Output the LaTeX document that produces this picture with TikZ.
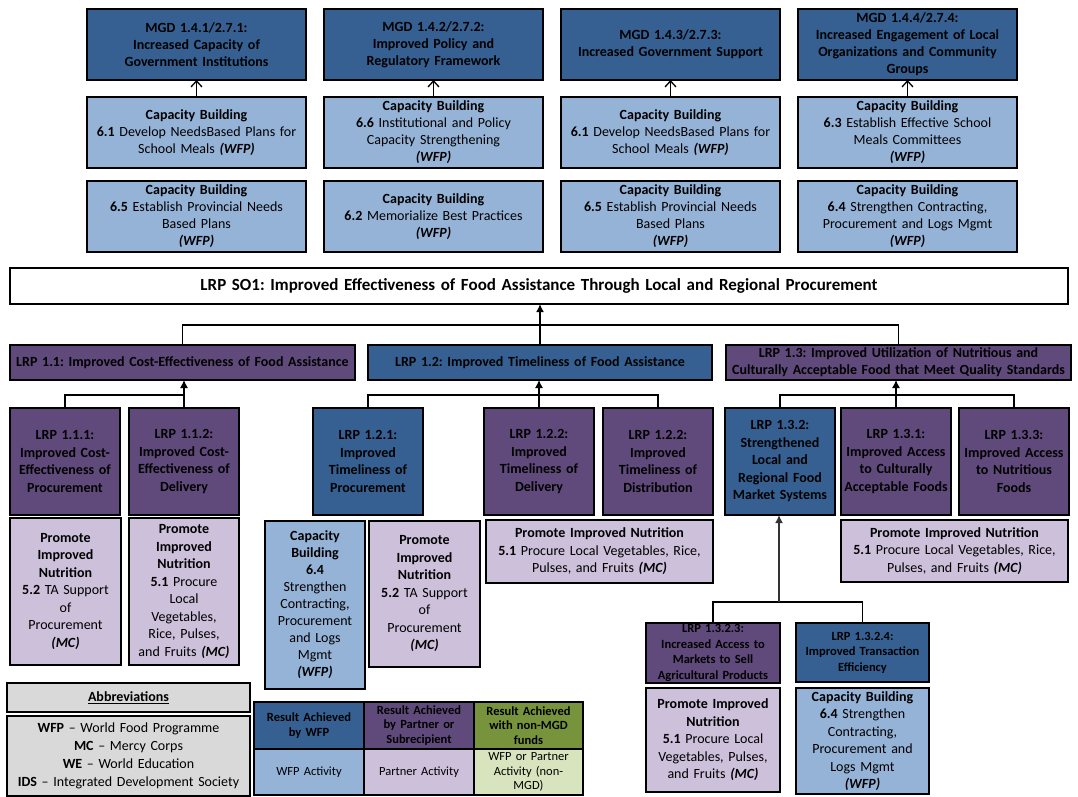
\documentclass[tikz,border=0pt]{standalone}
\usepackage{fontspec}
\setmainfont{Carlito}
\usetikzlibrary{positioning,arrows.meta}
\frenchspacing

\definecolor{wfpdark}{RGB}{54,96,146}
\definecolor{wfplight}{RGB}{149,179,215}
\definecolor{partdark}{RGB}{96,74,123}
\definecolor{partlight}{RGB}{204,192,218}
\definecolor{nongreen}{RGB}{119,147,60}
\definecolor{nonlight}{RGB}{215,228,189}
\definecolor{abbrgray}{RGB}{217,217,217}

\newcommand{\bywfp}{\textbf{\textit{(WFP)}}}
\newcommand{\bymc}{\textbf{\textit{(MC)}}}

\tikzset{
  box/.style={draw=black, line width=1.6pt, outer sep=0pt, inner sep=1pt,
              align=center, anchor=north west, font=\fontsize{14}{17}\selectfont},
  wfpres/.style={box, fill=wfpdark, font=\bfseries\fontsize{14}{17}\selectfont},
  partres/.style={box, fill=partdark, font=\bfseries\fontsize{14}{17}\selectfont},
  wfpact/.style={box, fill=wfplight},
  partact/.style={box, fill=partlight, font=\fontsize{14}{17.5}\selectfont},
  wide/.style={minimum width=219pt, minimum height=71pt, text width=215pt},
  tall/.style={minimum width=110pt, minimum height=107pt, text width=106pt,
               font=\bfseries\fontsize{14}{17.5}\selectfont},
  legh/.style={box, minimum width=110pt, minimum height=47pt, text width=106pt,
               font=\bfseries\fontsize{12.5}{14.5}\selectfont},
  legb/.style={box, minimum width=110pt, minimum height=46pt, text width=106pt,
               font=\fontsize{12.5}{14.5}\selectfont},
  conn/.style={line width=1.1pt},
  up/.style={conn, -{Latex[length=8pt,width=8pt]}},
  upopen/.style={line width=1.3pt, -{Straight Barb[length=6pt,width=11pt]}}
}

\begin{document}
\begin{tikzpicture}[x=1pt,y=-1pt]
\useasboundingbox (0,0) rectangle (1078,797);

% MGD results
\node[wfpres, wide] (mgd1) at (87,9) {MGD 1.4.1/2.7.1:\\Increased Capacity of\\Government Institutions};
\node[wfpres, wide, right=18pt of mgd1] (mgd2) {MGD 1.4.2/2.7.2:\\Improved Policy and\\Regulatory Framework};
\node[wfpres, wide, right=18pt of mgd2] (mgd3) {MGD 1.4.3/2.7.3:\\Increased Government Support};
\node[wfpres, wide, right=18pt of mgd3] (mgd4) {MGD 1.4.4/2.7.4:\\Increased Engagement of Local\\Organizations and Community\\Groups};

% capacity building activities
\node[wfpact, wide, below=17pt of mgd1] (cb61a) {\textbf{Capacity Building}\\\textbf{6.1} Develop NeedsBased Plans for\\School Meals \bywfp};
\node[wfpact, wide, below=17pt of mgd2] (cb66) {\textbf{Capacity Building}\\\textbf{6.6} Institutional and Policy\\Capacity Strengthening\\\bywfp};
\node[wfpact, wide, below=17pt of mgd3] (cb61b) {\textbf{Capacity Building}\\\textbf{6.1} Develop NeedsBased Plans for\\School Meals \bywfp};
\node[wfpact, wide, below=17pt of mgd4] (cb63) {\textbf{Capacity Building}\\\textbf{6.3} Establish Effective School\\Meals Committees\\\bywfp};

\node[wfpact, wide, below=13pt of cb61a] (cb65a) {\textbf{Capacity Building}\\\textbf{6.5} Establish Provincial Needs\\Based Plans\\\bywfp};
\node[wfpact, wide, below=13pt of cb66] (cb62) {\textbf{Capacity Building}\\\textbf{6.2} Memorialize Best Practices\\\bywfp};
\node[wfpact, wide, below=13pt of cb61b] (cb65b) {\textbf{Capacity Building}\\\textbf{6.5} Establish Provincial Needs\\Based Plans\\\bywfp};
\node[wfpact, wide, below=13pt of cb63] (cb64t) {\textbf{Capacity Building}\\\textbf{6.4} Strengthen Contracting,\\Procurement and Logs Mgmt\\\bywfp};

% strategic objective
\node[box, minimum width=1058pt, minimum height=36pt, text width=1050pt,
      font=\bfseries\fontsize{17}{20}\selectfont] (so1) at (10,268)
  {LRP SO1: Improved Effectiveness of Food Assistance Through Local and Regional Procurement};

% intermediate results
\node[partres, minimum width=345pt, minimum height=35pt, text width=341pt] (lrp11) at (10,345)
  {LRP 1.1: Improved Cost-Effectiveness of Food Assistance};
\node[wfpres, minimum width=344pt, minimum height=35pt, text width=340pt] (lrp12) at (368,345)
  {LRP 1.2: Improved Timeliness of Food Assistance};
\node[partres, minimum width=345pt, minimum height=35pt, text width=341pt] (lrp13) at (726,345)
  {LRP 1.3: Improved Utilization of Nutritious and\\Culturally Acceptable Food that Meet Quality Standards};

% sub results
\node[partres, tall] (lrp111) at (10,408) {LRP 1.1.1:\\Improved Cost-\\Effectiveness of\\Procurement};
\node[partres, tall] (lrp112) at (129,408) {LRP 1.1.2:\\Improved Cost-\\Effectiveness of\\Delivery};
\node[wfpres, tall] (lrp121) at (313,408) {LRP 1.2.1:\\Improved\\Timeliness of\\Procurement};
\node[partres, tall] (lrp122a) at (484,408) {LRP 1.2.2:\\Improved\\Timeliness of\\Delivery};
\node[partres, tall] (lrp122b) at (603,408) {LRP 1.2.2:\\Improved\\Timeliness of\\Distribution};
\node[wfpres, tall] (lrp132) at (725,408) {LRP 1.3.2:\\Strengthened\\Local and\\Regional Food\\Market Systems};
\node[partres, tall] (lrp131) at (841,408) {LRP 1.3.1:\\Improved Access\\to Culturally\\Acceptable Foods};
\node[partres, tall] (lrp133) at (959,408) {LRP 1.3.3:\\Improved Access\\to Nutritious\\Foods};

% activities under the sub results
\node[partact, minimum width=111pt, minimum height=147pt, text width=107pt] (pn52a) at (10,518)
  {\textbf{Promote}\\\textbf{Improved}\\\textbf{Nutrition}\\\textbf{5.2} TA Support\\of\\Procurement\\\bymc};
\node[partact, minimum width=110pt, minimum height=147pt, text width=106pt] (pn51a) at (129,518)
  {\textbf{Promote}\\\textbf{Improved}\\\textbf{Nutrition}\\\textbf{5.1} Procure\\Local\\Vegetables,\\Rice, Pulses,\\and Fruits \bymc};
\node[wfpact, minimum width=100pt, minimum height=168pt, text width=96pt] (cb64a) at (265,521)
  {\textbf{Capacity}\\\textbf{Building}\\\textbf{6.4}\\Strengthen\\Contracting,\\Procurement\\and Logs\\Mgmt\\\bywfp};
\node[partact, minimum width=111pt, minimum height=146pt, text width=107pt] (pn52b) at (369,521)
  {\textbf{Promote}\\\textbf{Improved}\\\textbf{Nutrition}\\\textbf{5.2} TA Support\\of\\Procurement\\\bymc};
\node[partact, minimum width=227pt, minimum height=63pt, text width=223pt] (pn51b) at (486,520)
  {\textbf{Promote Improved Nutrition}\\\textbf{5.1} Procure Local Vegetables, Rice,\\Pulses, and Fruits \bymc};
\node[partact, minimum width=227pt, minimum height=62pt, text width=223pt] (pn51c) at (841,520)
  {\textbf{Promote Improved Nutrition}\\\textbf{5.1} Procure Local Vegetables, Rice,\\Pulses, and Fruits \bymc};

% market systems branch
\node[partres, minimum width=134pt, minimum height=60pt, text width=130pt,
      font=\bfseries\fontsize{12.5}{15.5}\selectfont] (lrp1323) at (646,623)
  {LRP 1.3.2.3:\\Increased Access to\\Markets to Sell\\Agricultural Products};
\node[wfpres, minimum width=133pt, minimum height=59pt, text width=129pt,
      font=\bfseries\fontsize{12.5}{15.5}\selectfont] (lrp1324) at (796,623)
  {LRP 1.3.2.4:\\Improved Transaction\\Efficiency};
\node[partact, minimum width=134pt, minimum height=104pt, text width=130pt] (pn51d) at (646,688)
  {\textbf{Promote Improved}\\\textbf{Nutrition}\\\textbf{5.1} Procure Local\\Vegetables, Pulses,\\and Fruits \bymc};
\node[wfpact, minimum width=133pt, minimum height=106pt, text width=129pt,
      font=\fontsize{14}{17.5}\selectfont] (cb64b) at (796,688)
  {\textbf{Capacity Building}\\\textbf{6.4} Strengthen\\Contracting,\\Procurement and\\Logs Mgmt\\\bywfp};

% abbreviations
\node[box, fill=abbrgray, minimum width=243pt, minimum height=29pt, text width=239pt] (abbrh) at (7,683)
  {\underline{\textbf{Abbreviations}}};
\node[box, fill=abbrgray, minimum width=243pt, minimum height=80pt, text width=239pt,
      font=\fontsize{14}{18}\selectfont] (abbrb) at (7,716)
  {\textbf{WFP} – World Food Programme\\\textbf{MC} – Mercy Corps\\\textbf{WE} – World Education\\\textbf{IDS} – Integrated Development Society};

% legend
\node[legh, fill=wfpdark] (lgh1) at (254,702) {Result Achieved\\by WFP};
\node[legh, fill=partdark, right=0pt of lgh1] (lgh2) {Result Achieved\\by Partner or\\Subrecipient};
\node[legh, fill=nongreen, right=0pt of lgh2, minimum width=109pt] (lgh3) {Result Achieved\\with non-MGD\\funds};
\node[legb, fill=wfplight, below=0pt of lgh1] (lgb1) {WFP Activity};
\node[legb, fill=partlight, below=0pt of lgh2] (lgb2) {Partner Activity};
\node[legb, fill=nonlight, below=0pt of lgh3, minimum width=109pt] (lgb3) {WFP or Partner\\Activity (non-\\MGD)};

% connectors
\foreach \a/\b in {cb61a/mgd1, cb66/mgd2, cb61b/mgd3, cb63/mgd4}
  \draw[upopen] (\a.north) -- (\b.south);

\draw[conn] (lrp11.north) -- ++(0,-20) -| (lrp13.north);
\draw[up, line width=1.6pt] (lrp12.north) -- (lrp12.north |- so1.south);

\draw[conn] (lrp111.north) -- ++(0,-13) -| (lrp112.north);
\draw[up] (lrp112.north) -- (lrp112.north |- lrp11.south);
\draw[conn] (lrp121.north) -- ++(0,-13) -| (lrp122b.north);
\draw[up] (lrp122a.north) -- (lrp122a.north |- lrp12.south);
\draw[conn] (lrp132.north) -- ++(0,-13) -| (lrp133.north);
\draw[up] (lrp131.north) -- (lrp131.north |- lrp13.south);

\coordinate (fork) at (779,602);
\draw[conn] (lrp1323.north) |- (fork) -| (lrp1324.north);
\draw[up, line width=1.8pt, black!80] (fork) -- (fork |- lrp132.south);

\end{tikzpicture}
\end{document}
